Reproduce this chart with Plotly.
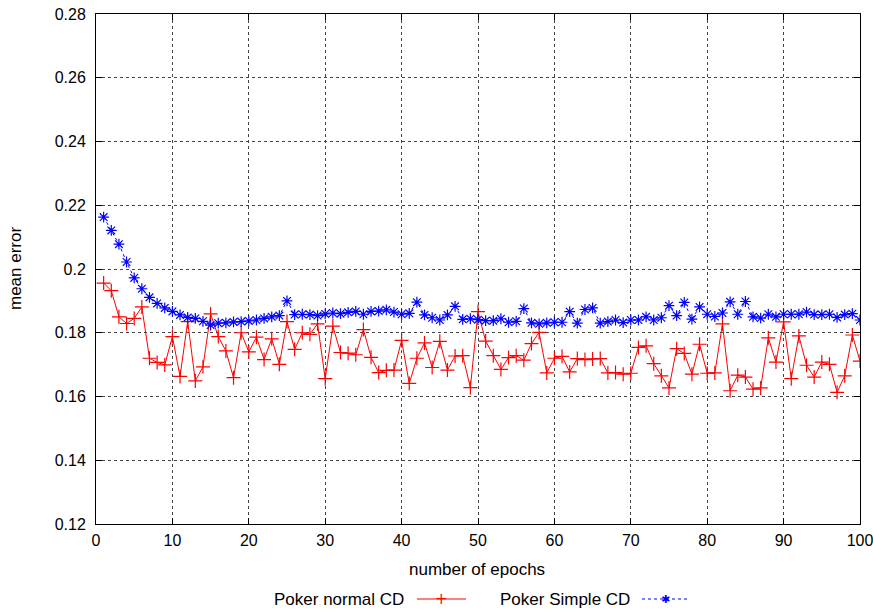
import plotly.graph_objects as go

epochs = list(range(1, 101))

normal_cd = [
    0.1956, 0.1932, 0.1850, 0.1829, 0.1845, 0.1881, 0.1720, 0.1707, 0.1699, 0.1788,
    0.1663, 0.1835, 0.1649, 0.1693, 0.1859, 0.1788, 0.1743, 0.1659, 0.1800, 0.1740,
    0.1786, 0.1716, 0.1781, 0.1701, 0.1835, 0.1748, 0.1800, 0.1795, 0.1828, 0.1656,
    0.1821, 0.1738, 0.1736, 0.1731, 0.1810, 0.1723, 0.1675, 0.1682, 0.1683, 0.1776,
    0.1641, 0.1720, 0.1768, 0.1691, 0.1773, 0.1683, 0.1727, 0.1728, 0.1628, 0.1866,
    0.1774, 0.1728, 0.1685, 0.1722, 0.1728, 0.1714, 0.1766, 0.1801, 0.1674, 0.1720,
    0.1726, 0.1677, 0.1719, 0.1716, 0.1718, 0.1719, 0.1674, 0.1675, 0.1670, 0.1673,
    0.1754, 0.1759, 0.1703, 0.1665, 0.1627, 0.1750, 0.1735, 0.1670, 0.1764, 0.1673,
    0.1674, 0.1828, 0.1618, 0.1667, 0.1661, 0.1623, 0.1627, 0.1784, 0.1708, 0.1834,
    0.1656, 0.1790, 0.1698, 0.1661, 0.1708, 0.1701, 0.1613, 0.1665, 0.1793, 0.1711,
]

simple_cd = [
    0.2163, 0.2121, 0.2078, 0.2022, 0.1972, 0.1938, 0.1911, 0.1892, 0.1878, 0.1867,
    0.1856, 0.1848, 0.1845, 0.1836, 0.1824, 0.1830, 0.1831, 0.1834, 0.1835, 0.1837,
    0.1840, 0.1845, 0.1850, 0.1854, 0.1900, 0.1857, 0.1858, 0.1857, 0.1854, 0.1859,
    0.1862, 0.1860, 0.1864, 0.1867, 0.1858, 0.1867, 0.1868, 0.1872, 0.1865, 0.1858,
    0.1861, 0.1896, 0.1856, 0.1847, 0.1840, 0.1856, 0.1883, 0.1842, 0.1844, 0.1841,
    0.1838, 0.1838, 0.1844, 0.1833, 0.1836, 0.1876, 0.1831, 0.1828, 0.1831, 0.1833,
    0.1833, 0.1866, 0.1830, 0.1873, 0.1878, 0.1830, 0.1835, 0.1840, 0.1832, 0.1840,
    0.1840, 0.1850, 0.1840, 0.1847, 0.1885, 0.1854, 0.1895, 0.1843, 0.1881, 0.1858,
    0.1851, 0.1862, 0.1897, 0.1858, 0.1898, 0.1850, 0.1846, 0.1858, 0.1850, 0.1858,
    0.1858, 0.1858, 0.1865, 0.1857, 0.1857, 0.1858, 0.1848, 0.1857, 0.1860, 0.1840,
]

x_ticks = [0, 10, 20, 30, 40, 50, 60, 70, 80, 90, 100]
y_ticks = [0.12, 0.14, 0.16, 0.18, 0.20, 0.22, 0.24, 0.26, 0.28]
y_tick_labels = ["0.12", "0.14", "0.16", "0.18", "0.2", "0.22", "0.24", "0.26", "0.28"]

series_names = ["Poker normal CD", "Poker Simple CD"]
x_title = "number of epochs"
y_title = "mean error"
RED = "#ff0000"
BLUE = "#0000ff"
FONT = "Liberation Sans, Arial, sans-serif"

fig = go.Figure()
fig.add_trace(go.Scatter(
    x=epochs, y=normal_cd, mode="lines+markers", name=series_names[0],
    line=dict(color=RED, width=1),
    marker=dict(symbol="cross-thin", size=10, color=RED, line=dict(color=RED, width=1.2)),
    showlegend=False,
))
fig.add_trace(go.Scatter(
    x=epochs, y=simple_cd, mode="lines+markers", name=series_names[1],
    line=dict(color=BLUE, width=1, dash="dot"),
    marker=dict(symbol="asterisk", size=9, color=BLUE, line=dict(color=BLUE, width=1.2)),
    showlegend=False,
))

axis_common = dict(
    showline=True, linecolor="black", linewidth=1, mirror="allticks",
    ticks="inside", ticklen=6, tickcolor="black",
    showgrid=True, gridcolor="#444444", griddash="dot", gridwidth=1,
    zeroline=False, automargin=False, ticklabeloverflow="allow",
    tickfont=dict(family=FONT, size=16, color="black"),
)

fig.update_xaxes(range=[0, 100], tickvals=x_ticks, ticklabelstandoff=2, **axis_common)
fig.update_yaxes(range=[0.12, 0.28], tickvals=y_ticks, ticktext=y_tick_labels,
                 ticklabelstandoff=6, **axis_common)

W, H = 873, 610
ml, mr, mt, mb = 96, 13, 14, 86
pw, ph = W - ml - mr, H - mt - mb

def px(xp):
    return (xp - ml) / pw

def py(yp):
    return (H - mb - yp) / ph

annotations = [
    dict(x=px(477), y=py(569), xref="paper", yref="paper", text=x_title, showarrow=False,
         xanchor="center", yanchor="middle", font=dict(family=FONT, size=17, color="black")),
    dict(x=px(15), y=py(269), xref="paper", yref="paper", text=y_title, showarrow=False,
         textangle=-90, xanchor="center", yanchor="middle",
         font=dict(family=FONT, size=17, color="black")),
]
shapes = []

# gnuplot-style key: text, then line sample
key_y = 599
key_items = [
    (series_names[0], 406, 417, 466, RED, "solid", "+", 15),
    (series_names[1], 632, 642, 689, BLUE, "dot", "✱", 11),
]
for name, tx, l0, l1, col, dash, sym, ssize in key_items:
    annotations.append(dict(x=px(tx), y=py(key_y), xref="paper", yref="paper",
                            text=name, showarrow=False, xanchor="right", yanchor="middle",
                            font=dict(family=FONT, size=17, color="black")))
    shapes.append(dict(type="line", xref="paper", yref="paper",
                       x0=px(l0), x1=px(l1), y0=py(key_y), y1=py(key_y),
                       line=dict(color=col, width=1, dash=dash)))
    annotations.append(dict(x=px((l0 + l1) / 2), y=py(key_y), xref="paper", yref="paper",
                            text=sym, showarrow=False, xanchor="center", yanchor="middle",
                            font=dict(family="DejaVu Sans", size=ssize, color=col)))

fig.update_layout(
    width=W, height=H,
    margin=dict(l=ml, r=mr, t=mt, b=mb, autoexpand=False),
    paper_bgcolor="white", plot_bgcolor="white",
    font=dict(family=FONT, size=16, color="black"),
    annotations=annotations, shapes=shapes,
    showlegend=False,
)

fig.write_html(
    "out.html",
    config={"displayModeBar": False},
    post_script="document.body.style.margin='0';document.body.style.overflow='hidden';",
)
